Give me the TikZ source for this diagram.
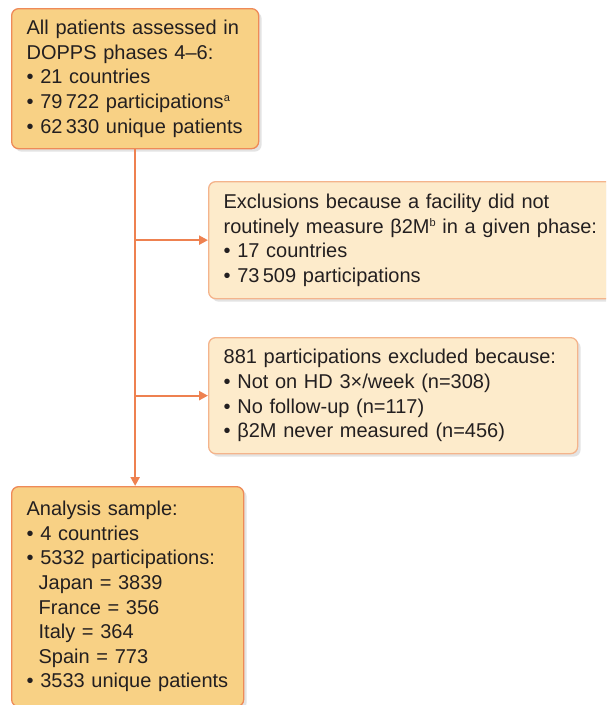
\documentclass[tikz,border=0pt]{standalone}
\usepackage{fontspec}
\setmainfont{Liberation Sans}
\usepackage{tikz}
\usetikzlibrary{arrows.meta,positioning,shadows}
\definecolor{ink}{HTML}{231F20}
\definecolor{deep}{HTML}{F8D185}
\definecolor{pale}{HTML}{FDEBCB}
\definecolor{rim}{HTML}{EE8A58}
\definecolor{softrim}{HTML}{F4B48C}
\definecolor{flow}{HTML}{EE8150}
\newcommand{\fnmark}[1]{\raisebox{0.62ex}{\fontsize{11}{11}\selectfont #1}}
\tikzset{
  box/.style={rounded corners=7pt, align=left, inner xsep=15pt, inner ysep=0pt,
    text=ink, font=\fontsize{20}{24.6}\selectfont, line width=1.3pt,
    drop shadow={opacity=0.22, shadow xshift=3pt, shadow yshift=-3pt}},
  keybox/.style={box, draw=rim, fill=deep},
  exbox/.style={box, draw=softrim, fill=pale},
  link/.style={draw=flow, line width=2.2pt, -{Triangle[length=9pt,width=9pt]}}
}

\begin{document}
\begin{tikzpicture}[x=1pt,y=-1pt]
  \useasboundingbox (0,0) rectangle (606,705);
  \clip (0,0) rectangle (606,705);

  \node[keybox, anchor=north west, text width=217pt, minimum height=140pt] (All) at (11,8)
    {All patients assessed in\\ DOPPS phases 4–6:\\ • 21 countries\\
     • 79\,722 participations\fnmark{a}\\ • 62\,330 unique patients};
  \node[exbox, anchor=north west, text width=382pt, minimum height=117pt] (Excl) at (208,181)
    {Exclusions because a facility did not\\
     routinely measure β2M\fnmark{b} in a given phase:\\
     • 17 countries\\ • 73\,509 participations};
  \node[exbox, anchor=north west, text width=339pt, minimum height=116pt] (Drop) at (208,337)
    {881 participations excluded because:\\ • Not on HD 3×/week (n=308)\\
     • No follow-up (n=117)\\ • β2M never measured (n=456)};
  \node[keybox, anchor=north west, text width=202pt, minimum height=220pt] (Sample) at (11,486)
    {Analysis sample:\\ • 4 countries\\ • 5332 participations:\\
     \hspace*{12pt}Japan = 3839\\ \hspace*{12pt}France = 356\\
     \hspace*{12pt}Italy = 364\\ \hspace*{12pt}Spain = 773\\ • 3533 unique patients};

  % flow line with side exits
  \coordinate (T1) at (All.south |- Excl.west);
  \coordinate (T2) at (All.south |- Drop.west);
  \draw[link] (All.south) -- (All.south |- Sample.north);
  \draw[link] (T1) -- (Excl.west);
  \draw[link] (T2) -- (Drop.west);
\end{tikzpicture}
\end{document}
